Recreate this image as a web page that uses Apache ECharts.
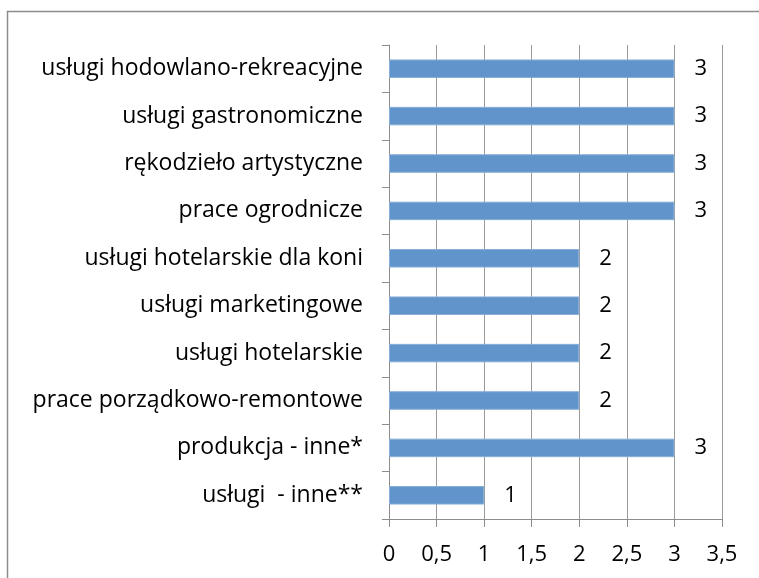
<!DOCTYPE html>
<html>
<head>
<meta charset="utf-8">
<script src="https://cdn.jsdelivr.net/npm/echarts@6/dist/echarts.min.js"></script>
<style>
  html, body { margin: 0; padding: 0; background: #fff; }
  #chart { width: 759px; height: 578px; }
</style>
</head>
<body>
<div id="chart"></div>
<script>
// categories listed bottom to top (as the category axis draws them)
const categories = [
  'usługi  - inne**',
  'produkcja - inne*',
  'prace porządkowo-remontowe',
  'usługi hotelarskie',
  'usługi marketingowe',
  'usługi hotelarskie dla koni',
  'prace ogrodnicze',
  'rękodzieło artystyczne',
  'usługi gastronomiczne',
  'usługi hodowlano-rekreacyjne'
]
const values = [1, 3, 2, 2, 2, 2, 3, 3, 3, 3]
const xTicks = [0, 0.5, 1, 1.5, 2, 2.5, 3, 3.5]

const FONT = 'Open Sans'
const chart = echarts.init(document.getElementById('chart'))

const option = {
  animation: false,
  textStyle: { fontFamily: FONT },
  graphic: [
    {
      type: 'rect',
      shape: { x: 7.5, y: 11.5, width: 780, height: 600 },
      style: { fill: 'none', stroke: '#8c8c8c', lineWidth: 1.5 },
      silent: true
    }
  ],
  grid: { left: 389, right: 37, top: 45, bottom: 59 },
  xAxis: {
    type: 'value',
    min: xTicks[0],
    max: xTicks[xTicks.length - 1],
    interval: 0.5,
    axisLine: { show: true, lineStyle: { color: '#8c8c8c', width: 1 } },
    axisTick: { show: true, length: 8, lineStyle: { color: '#8c8c8c' } },
    splitLine: { show: true, lineStyle: { color: '#9a9a9a', width: 1 } },
    axisLabel: {
      color: '#000',
      fontSize: 22,
      fontFamily: FONT,
      margin: 25,
      formatter: v => String(v).replace('.', ',')
    }
  },
  yAxis: {
    type: 'category',
    data: categories,
    boundaryGap: true,
    axisLine: { show: true, lineStyle: { color: '#8c8c8c', width: 1 } },
    axisTick: { show: true, length: 7, inside: false, lineStyle: { color: '#8c8c8c' } },
    axisLabel: { color: '#000', fontSize: 23, fontFamily: FONT, margin: 26, padding: [4, 0, 0, 0] }
  },
  series: [
    {
      type: 'bar',
      data: values,
      barWidth: '39%',
      itemStyle: { color: '#6194ca', borderColor: '#86aed8', borderWidth: 1 },
      label: {
        show: true,
        position: 'right',
        distance: 20,
        color: '#000',
        fontSize: 22,
        fontFamily: FONT,
        padding: [4, 0, 0, 0]
      }
    }
  ]
}

chart.setOption(option)
</script>
</body>
</html>
